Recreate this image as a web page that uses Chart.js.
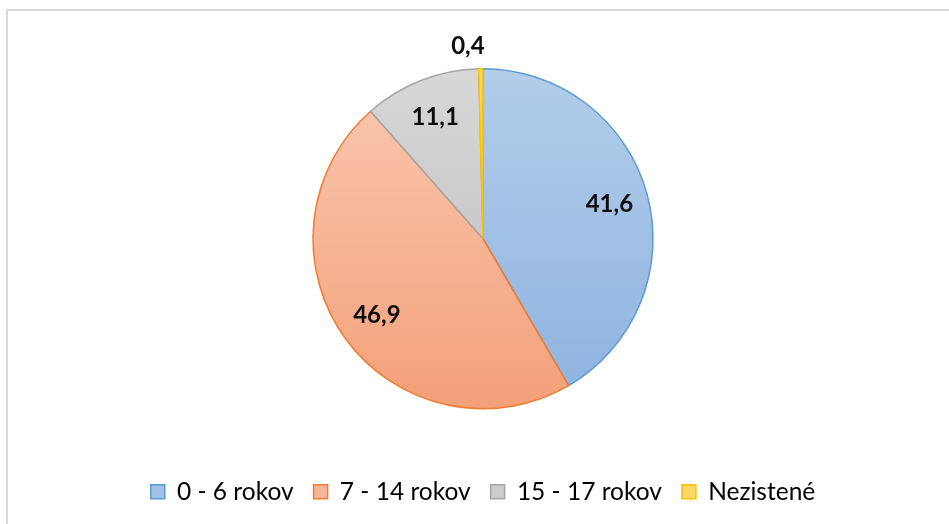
<!DOCTYPE html>
<html>
<head>
<meta charset="utf-8">
<script src="https://cdn.jsdelivr.net/npm/chart.js@4.4.1/dist/chart.umd.min.js"></script>
<style>
    html, body { margin: 0; padding: 0; background: #fff; overflow: hidden; }
    #wrap { position: relative; width: 949px; height: 524px; }
    #frame { position: absolute; left: 6px; top: 9px; width: 1000px; height: 600px; border-left: 2px solid #d9d9d9; border-top: 2px solid #d9d9d9; box-sizing: border-box; }
    canvas { position: absolute; left: 0; top: 0; }
</style>
</head>
<body>
<div id="wrap">
    <div id="frame"></div>
    <canvas id="ageChart" width="949" height="524"></canvas>
</div>
<script>
const categories = ['0 - 6 rokov', '7 - 14 rokov', '15 - 17 rokov', 'Nezistené'];
const shares = [41.6, 46.9, 11.1, 0.4];

// top / bottom colours of the gradient, outline colour
const topColors = ['#b3cdea', '#f9c9b3', '#d7d7d7', '#ffd966'];
const bottomColors = ['#8db2e0', '#f4a079', '#bcbcbc', '#ffc000'];
const lineColors = ['#5b9bd5', '#ed7d31', '#a5a5a5', '#ffc000'];
const legendFills = ['#a3c1e6', '#f7b699', '#cccccc', '#ffd966'];

const PIE_RADIUS = 170;

function sliceGradient(ctx) {
    const chart = ctx.chart;
    const area = chart.chartArea;
    if (!area) return topColors[ctx.dataIndex];
    const cy = (area.top + area.bottom) / 2;
    const g = chart.ctx.createLinearGradient(0, cy - PIE_RADIUS, 0, cy + PIE_RADIUS);
    g.addColorStop(0, topColors[ctx.dataIndex]);
    g.addColorStop(1, bottomColors[ctx.dataIndex]);
    return g;
}

// draws the numbers on the slices, small ones go outside
const sliceLabels = {
    id: 'sliceLabels',
    afterDatasetsDraw(chart) {
        const ctx = chart.ctx;
        const meta = chart.getDatasetMeta(0);
        ctx.save();
        ctx.font = 'bold 24px Lato';
        ctx.fillStyle = '#0d0d0d';
        ctx.textBaseline = 'middle';
        meta.data.forEach((arc, i) => {
            const mid = (arc.startAngle + arc.endAngle) / 2;
            const text = shares[i].toFixed(1).replace('.', ',');
            let r, align = 'center';
            if (shares[i] < 3) {
                r = arc.outerRadius + 22;
                align = Math.cos(mid) < 0 ? 'right' : 'left';
            } else {
                r = arc.outerRadius * 0.77;
            }
            const x = arc.x + Math.cos(mid) * r;
            const y = arc.y + Math.sin(mid) * r;
            ctx.textAlign = align;
            ctx.fillText(text, align === 'right' ? x + 4 : x, y);
        });
        ctx.restore();
    }
};

new Chart('ageChart', {
    type: 'pie',
    data: {
        labels: categories,
        datasets: [{
            data: shares,
            backgroundColor: sliceGradient,
            borderColor: lineColors,
            borderWidth: 1.5,
            radius: PIE_RADIUS
        }]
    },
    options: {
        responsive: false,
        animation: false,
        layout: { padding: { top: 18, left: 20, right: 3, bottom: 10 } },
        plugins: {
            tooltip: { enabled: false },
            legend: {
                position: 'bottom',
                labels: {
                    font: { family: 'Lato', size: 24.5 },
                    color: '#1a1a1a',
                    boxWidth: 14,
                    boxHeight: 14,
                    padding: 20,
                    generateLabels: chart => categories.map((c, i) => ({
                        text: c,
                        fillStyle: legendFills[i],
                        strokeStyle: lineColors[i],
                        lineWidth: 1.5,
                        index: i
                    }))
                }
            }
        }
    },
    plugins: [sliceLabels]
});
</script>
</body>
</html>
